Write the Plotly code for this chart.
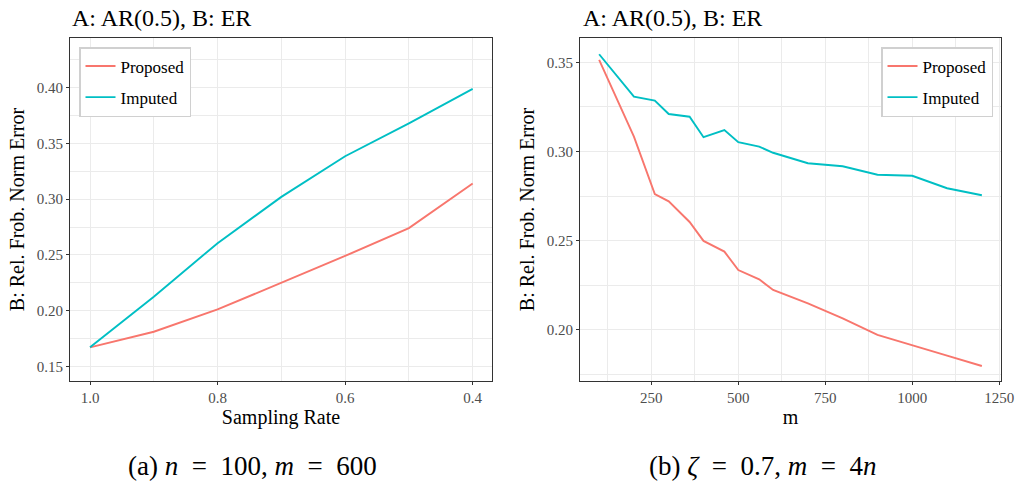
import plotly.graph_objects as go

# ---- data ----
rate = [1.0, 0.9, 0.8, 0.7, 0.6, 0.5, 0.4]
rate_proposed = [0.167, 0.181, 0.201, 0.225, 0.249, 0.274, 0.314]
rate_imputed = [0.167, 0.2125, 0.2605, 0.302, 0.3385, 0.368, 0.399]

m_vals = [100, 200, 260, 300, 360, 400, 460, 500, 560, 600, 700, 800, 900, 1000, 1100, 1200]
m_proposed = [0.3513, 0.3083, 0.2762, 0.2721, 0.2605, 0.2499, 0.2439, 0.2336, 0.2284,
              0.2224, 0.2149, 0.2065, 0.1972, 0.1916, 0.1856, 0.1798]
m_imputed = [0.3545, 0.3307, 0.3285, 0.3210, 0.3195, 0.3080, 0.3120, 0.3052, 0.3027,
             0.2993, 0.2934, 0.2917, 0.2870, 0.2864, 0.2794, 0.2755]

series_names = ["Proposed", "Imputed"]
colors = ["#F8766D", "#00BFC4"]

W, H = 1016, 486
FONT = "Liberation Serif"

def px(x):
    return x / W

def py(y):
    return 1 - y / H

fig = go.Figure()

for name, ys, c in zip(series_names, [rate_proposed, rate_imputed], colors):
    fig.add_trace(go.Scatter(x=rate, y=ys, mode="lines", name=name,
                             line=dict(color=c, width=1.9),
                             xaxis="x", yaxis="y", legend="legend",
                             legendgroup="a" + name))
for name, ys, c in zip(series_names, [m_proposed, m_imputed], colors):
    fig.add_trace(go.Scatter(x=m_vals, y=ys, mode="lines", name=name,
                             line=dict(color=c, width=1.9),
                             xaxis="x2", yaxis="y2", legend="legend2",
                             legendgroup="b" + name))

grid = "#EBEBEB"
axis_common = dict(showline=True, linecolor="#333333", linewidth=1, mirror=True,
                   ticks="outside", ticklen=3, tickcolor="#333333", tickwidth=1,
                   showgrid=True, gridcolor=grid, gridwidth=1.2, zeroline=False,
                   tickfont=dict(family=FONT, size=15, color="#4D4D4D"),
                   automargin=False)

title_font = dict(family=FONT, size=20, color="black")

fig.update_layout(
    width=W, height=H,
    margin=dict(l=0, r=0, t=0, b=0),
    paper_bgcolor="white", plot_bgcolor="white",
    font=dict(family=FONT),
    xaxis=dict(domain=[px(70), px(492)], range=[1.0314, 0.3697], anchor="y",
               tick0=0.4, dtick=0.2, tickformat=".1f",
               minor=dict(showgrid=True, gridcolor=grid, gridwidth=0.7, dtick=0.1, tick0=0.4),
               title=dict(text="Sampling Rate", font=title_font, standoff=4),
               **axis_common),
    yaxis=dict(domain=[py(381), py(38)], range=[0.1368, 0.4446], anchor="x",
               tick0=0.15, dtick=0.05, tickformat=".2f",
               minor=dict(showgrid=True, gridcolor=grid, gridwidth=0.7, dtick=0.025, tick0=0.15),
               title=dict(text="B: Rel. Frob. Norm Error", font=title_font, standoff=6),
               **axis_common),
    xaxis2=dict(domain=[px(580), px(1001)], range=[45, 1255], anchor="y2",
                tick0=0, dtick=250,
                minor=dict(showgrid=True, gridcolor=grid, gridwidth=0.7, dtick=125, tick0=0),
                title=dict(text="m", font=title_font, standoff=4),
                **axis_common),
    yaxis2=dict(domain=[py(381), py(38)], range=[0.1714, 0.3636], anchor="x2",
                tick0=0.2, dtick=0.05, tickformat=".2f",
                minor=dict(showgrid=True, gridcolor=grid, gridwidth=0.7, dtick=0.025, tick0=0.2),
                title=dict(text="B: Rel. Frob. Norm Error", font=title_font, standoff=6),
                **axis_common),
    legend=dict(x=px(79), y=py(47), xanchor="left", yanchor="top",
                bordercolor="#D0D0D0", borderwidth=1.5, bgcolor="white",
                font=dict(family=FONT, size=17, color="black"),
                tracegroupgap=6, traceorder="grouped"),
    legend2=dict(x=px(993), y=py(47), xanchor="right", yanchor="top",
                 bordercolor="#D0D0D0", borderwidth=1.5, bgcolor="white",
                 font=dict(family=FONT, size=17, color="black"),
                 tracegroupgap=6, traceorder="grouped"),
    showlegend=True,
)

annotations = [
    dict(text="A: AR(0.5), B: ER", x=px(70), y=py(18), xanchor="left", yanchor="middle"),
    dict(text="A: AR(0.5), B: ER", x=px(581), y=py(18), xanchor="left", yanchor="middle"),
]
for a in annotations:
    a.update(xref="paper", yref="paper", showarrow=False,
             font=dict(family=FONT, size=24, color="black"))
    fig.add_annotation(**a)

SP = "\u2002"  # en space, mimics math spacing around relations
captions = [
    (f"(a) <i>n</i>{SP}={SP}100, <i>m</i>{SP}={SP}600", 252.5),
    (f"(b) <i>ζ</i>{SP}={SP}0.7, <i>m</i>{SP}={SP}4<i>n</i>", 762),
]
for text, cx in captions:
    fig.add_annotation(text=text, x=px(cx), y=py(466), xref="paper", yref="paper",
                       xanchor="center", yanchor="middle", showarrow=False,
                       font=dict(family=FONT, size=27, color="black"))

fig.write_html("out.html")
